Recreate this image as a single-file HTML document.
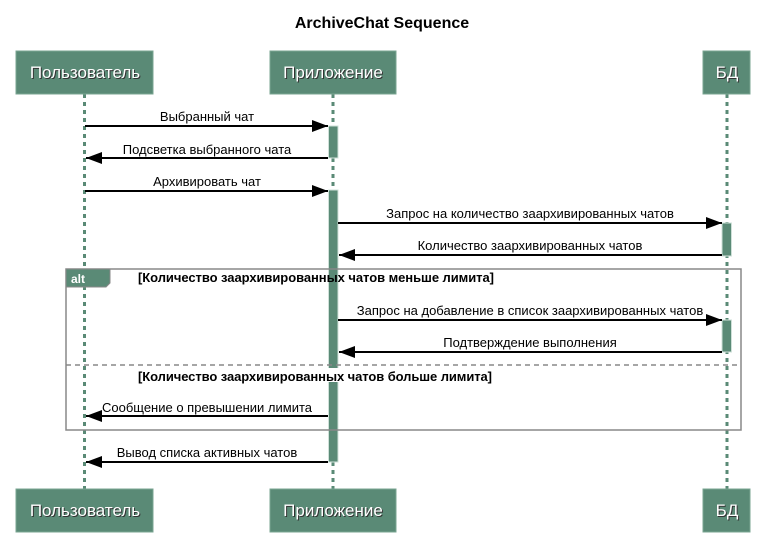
<!DOCTYPE html>
<html><head><meta charset="utf-8"><style>
html,body{margin:0;padding:0;background:#fff;}
svg{display:block;font-family:"Liberation Sans",sans-serif;}
.actor{fill:#5a8a76;stroke:#7aa592;stroke-width:1}
.at{fill:#fff;font-size:17px;text-anchor:middle;}
.ats{fill:#333;font-size:17px;text-anchor:middle;}
.ll{stroke:#5a8a76;stroke-width:3;stroke-dasharray:4,4}
.act{fill:#5a8a76;stroke:#cfe0d8;stroke-width:1}
.msg{stroke:#000;stroke-width:2}
.ml{font-size:13px;fill:#000;text-anchor:middle}
.g{font-size:13px;font-weight:bold;fill:#000}
</style></head><body>
<svg width="765" height="556" viewBox="0 0 765 556" xmlns="http://www.w3.org/2000/svg">
<defs>
<marker id="ah" markerWidth="16" markerHeight="12" refX="16" refY="6" orient="auto" markerUnits="userSpaceOnUse"><path d="M0,0 L16,6 L0,12 z" fill="#000"/></marker>
</defs>
<text x="382" y="28" text-anchor="middle" font-size="16" font-weight="bold" fill="#000">ArchiveChat Sequence</text>

<line class="ll" x1="84.5" y1="94" x2="84.5" y2="489"/>
<line class="ll" x1="333" y1="94" x2="333" y2="489"/>
<line class="ll" x1="727" y1="94" x2="727" y2="489"/>

<rect class="actor" x="16" y="51" width="137" height="43"/>
<rect class="actor" x="270" y="51" width="126" height="43"/>
<rect class="actor" x="703" y="51" width="47" height="43"/>
<rect class="actor" x="16" y="489" width="137" height="43"/>
<rect class="actor" x="270" y="489" width="126" height="43"/>
<rect class="actor" x="703" y="489" width="47" height="43"/>
<g>
<text class="ats" x="86" y="79">Пользователь</text><text class="at" x="85" y="78">Пользователь</text>
<text class="ats" x="334" y="79">Приложение</text><text class="at" x="333" y="78">Приложение</text>
<text class="ats" x="728" y="79">БД</text><text class="at" x="727" y="78">БД</text>
<text class="ats" x="86" y="517">Пользователь</text><text class="at" x="85" y="516">Пользователь</text>
<text class="ats" x="334" y="517">Приложение</text><text class="at" x="333" y="516">Приложение</text>
<text class="ats" x="728" y="517">БД</text><text class="at" x="727" y="516">БД</text>
</g>

<rect class="act" x="328.5" y="126" width="9.5" height="32"/>
<rect class="act" x="328.5" y="190" width="9.5" height="272"/>
<rect class="act" x="722" y="223" width="9.5" height="33"/>
<rect class="act" x="722" y="320" width="9.5" height="32"/>

<rect x="66" y="269" width="675" height="161" fill="none" stroke="#888" stroke-width="1.5"/>
<path d="M66,269 H110 V283 L106,287 H66 z" fill="#5a8a76" stroke="#888" stroke-width="1"/>
<text x="71" y="283" font-size="12" font-weight="bold" fill="#fff">alt</text>
<line x1="66" y1="365" x2="741" y2="365" stroke="#888" stroke-width="1.5" stroke-dasharray="5,4"/>
<text class="g" x="138" y="282" textLength="356">[Количество заархивированных чатов меньше лимита]</text>
<rect x="138" y="368" width="356" height="14" fill="#fff"/>
<text class="g" x="138" y="381" textLength="354">[Количество заархивированных чатов больше лимита]</text>

<line class="msg" x1="85" y1="126" x2="328" y2="126" marker-end="url(#ah)"/>
<text class="ml" x="207" y="121">Выбранный чат</text>
<line class="msg" x1="328" y1="158" x2="86" y2="158" marker-end="url(#ah)"/>
<text class="ml" x="207" y="154">Подсветка выбранного чата</text>
<line class="msg" x1="85" y1="191" x2="328" y2="191" marker-end="url(#ah)"/>
<text class="ml" x="207" y="186">Архивировать чат</text>
<line class="msg" x1="338" y1="223" x2="722" y2="223" marker-end="url(#ah)"/>
<text class="ml" x="530" y="218">Запрос на количество заархивированных чатов</text>
<line class="msg" x1="722" y1="255" x2="339" y2="255" marker-end="url(#ah)"/>
<text class="ml" x="530" y="250">Количество заархивированных чатов</text>
<line class="msg" x1="338" y1="320" x2="722" y2="320" marker-end="url(#ah)"/>
<text class="ml" x="530" y="315">Запрос на добавление в список заархивированных чатов</text>
<line class="msg" x1="722" y1="352" x2="339" y2="352" marker-end="url(#ah)"/>
<text class="ml" x="530" y="347">Подтверждение выполнения</text>
<line class="msg" x1="328" y1="416" x2="86" y2="416" marker-end="url(#ah)"/>
<text class="ml" x="207" y="412">Сообщение о превышении лимита</text>
<line class="msg" x1="328" y1="462" x2="86" y2="462" marker-end="url(#ah)"/>
<text class="ml" x="207" y="457">Вывод списка активных чатов</text>
</svg>
</body></html>
